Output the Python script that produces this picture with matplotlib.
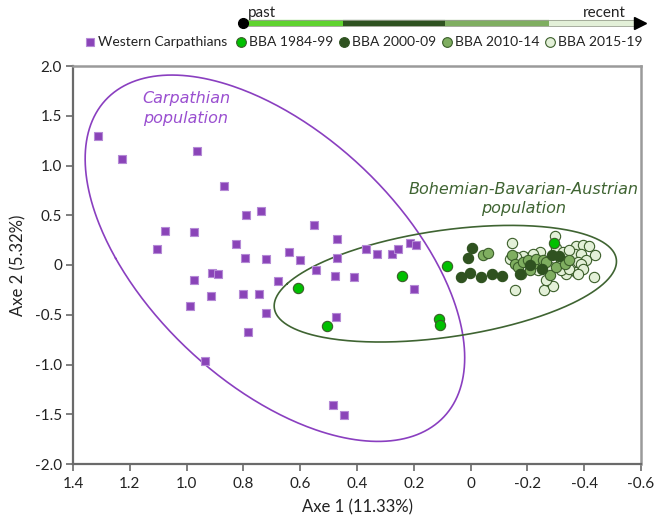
import numpy as np
import matplotlib
matplotlib.use("Agg")
import matplotlib.pyplot as plt
from matplotlib.lines import Line2D

# ---------------- data ----------------
carp_x = [1.312, 1.227, 0.963, 0.869, 0.792, 0.737, 1.077, 0.973, 1.105, 0.827,
          0.553, 0.470, 0.795, 0.719, 0.640, 0.601, 0.470, 0.369, 0.331, 0.275,
          0.254, 0.215, 0.192, 0.973, 0.910, 0.889, 0.677, 0.545, 0.479, 0.411,
          0.199, 0.914, 0.987, 0.802, 0.746, 0.719, 0.783, 0.473, 0.935, 0.484, 0.445]
carp_y = [1.293, 1.068, 1.144, 0.792, 0.505, 0.545, 0.343, 0.333, 0.156, 0.216,
          0.398, 0.260, 0.068, 0.058, 0.131, 0.047, 0.068, 0.156, 0.111, 0.111,
          0.156, 0.226, 0.196, -0.147, -0.081, -0.094, -0.158, -0.051, -0.114, -0.121,
          -0.238, -0.313, -0.410, -0.293, -0.293, -0.485, -0.677, -0.518, -0.966, -1.404, -1.508]

bba84_x = [0.608, 0.507, 0.243, 0.084, 0.111, 0.108, -0.292]
bba84_y = [-0.232, -0.612, -0.114, -0.006, -0.545, -0.602, 0.226]

bba00_x = [-0.006, 0.009, 0.035, 0.003, -0.037, -0.075, -0.110, -0.173, -0.208, -0.251, -0.286, -0.310]
bba00_y = [0.166, 0.071, -0.121, -0.077, -0.121, -0.087, -0.114, -0.087, -0.003, -0.036, 0.098, 0.088]

bba10_x = [-0.044, -0.063, -0.147, -0.155, -0.167, -0.184, -0.202, -0.219, -0.231, -0.255,
           -0.267, -0.281, -0.302, -0.331, -0.348, -0.179, -0.208]
bba10_y = [0.098, 0.125, 0.098, 0.014, -0.020, 0.030, 0.047, 0.014, 0.065, 0.055,
           0.030, -0.097, -0.020, 0.014, 0.047, -0.087, -0.054]

bba15_x = [-0.146, -0.298, -0.370, -0.395, -0.416, -0.439, -0.433, -0.158, -0.257, -0.290,
           -0.366, -0.390, -0.378, -0.407, -0.372, -0.337, -0.319, -0.267, -0.237, -0.208,
           -0.184, -0.161, -0.137, -0.302, -0.325, -0.348, -0.390, -0.348, -0.278, -0.319,
           -0.243, -0.219, -0.395, -0.378]
bba15_y = [0.226, 0.290, 0.189, 0.199, 0.189, 0.105, -0.121, -0.248, -0.248, -0.215,
           0.115, 0.115, 0.030, 0.047, -0.071, -0.087, -0.054, -0.155, -0.054, 0.081,
           0.088, 0.081, 0.065, 0.166, 0.131, 0.148, 0.014, -0.036, -0.020, 0.047,
           0.131, 0.115, -0.036, -0.087]

x_ticks = [1.4, 1.2, 1.0, 0.8, 0.6, 0.4, 0.2, 0, -0.2, -0.4, -0.6]
x_tick_labels = ["1.4", "1.2", "1.0", "0.8", "0.6", "0.4", "0.2", "0", "-0.2", "-0.4", "-0.6"]
y_ticks = [2.0, 1.5, 1.0, 0.5, 0, -0.5, -1.0, -1.5, -2.0]
y_tick_labels = ["2.0", "1.5", "1.0", "0.5", "0", "-0.5", "-1.0", "-1.5", "-2.0"]

legend_labels = ["Western Carpathians", "BBA 1984-99", "BBA 2000-09", "BBA 2010-14", "BBA 2015-19"]

# ellipse parameters (center, conjugate half-axes) in data units
carp_ell = dict(cx=0.689, cy=0.068, ux=0.561, vx=0.363, vy=1.841)
bba_ell = dict(cx=0.089, cy=-0.188, ux=0.557, vx=-0.230, vy=0.586)

# ---------------- style ----------------
PURPLE = "#8A44B8"
PURPLE_EDGE = "#B58AD6"
PURPLE_LINE = "#8A3FC0"
C84 = "#00C000"
C00 = "#2F5220"
C10 = "#7FAE60"
C15 = "#E3F0D8"
EDGE = "#3B5E2A"
GREEN_LINE = "#3F6432"

plt.rcParams['font.family'] = ['Lato', 'DejaVu Sans']

fig = plt.figure(figsize=(6.54, 5.2), dpi=100)
ax = fig.add_axes([73/654, 1 - 464/520, (641 - 73)/654, (464 - 66)/520])

t = np.linspace(0, 2*np.pi, 400)
for e, col in ((carp_ell, PURPLE_LINE), (bba_ell, GREEN_LINE)):
    ex = e['cx'] + e['ux']*np.cos(t) + e['vx']*np.sin(t)
    ey = e['cy'] + e['vy']*np.sin(t)
    ax.plot(ex, ey, color=col, lw=1.2, zorder=2)

ax.scatter(carp_x, carp_y, marker='s', s=40, facecolor=PURPLE, edgecolor=PURPLE_EDGE,
           linewidths=0.8, zorder=3)
ax.scatter(bba15_x, bba15_y, marker='o', s=55, facecolor=C15, edgecolor=EDGE, linewidths=0.8, zorder=4)
ax.scatter(bba10_x, bba10_y, marker='o', s=55, facecolor=C10, edgecolor=EDGE, linewidths=0.8, zorder=5)
ax.scatter(bba00_x, bba00_y, marker='o', s=55, facecolor=C00, edgecolor=C00, linewidths=0.8, zorder=6)
ax.scatter(bba84_x, bba84_y, marker='o', s=55, facecolor=C84, edgecolor=EDGE, linewidths=0.8, zorder=7)

ax.set_xlim(1.4, -0.6)
ax.set_ylim(-2.0, 2.0)
ax.set_xticks(x_ticks)
ax.set_xticklabels(x_tick_labels)
ax.set_yticks(y_ticks)
ax.set_yticklabels(y_tick_labels)
ax.tick_params(axis='both', direction='out', length=5, width=1.2, color='#6a6a6a',
               labelsize=11, labelcolor='#222222', pad=3)
ax.tick_params(axis='x', pad=4)
for s in ('left', 'bottom'):
    ax.spines[s].set_color('#6a6a6a')
    ax.spines[s].set_linewidth(1.6)
for s in ('top', 'right'):
    ax.spines[s].set_color('#9a9a9a')
    ax.spines[s].set_linewidth(1.8)

ax.set_xlabel("Axe 1 (11.33%)", fontsize=12, color='#222222', labelpad=6)
ax.set_ylabel("Axe 2 (5.32%)", fontsize=12, color='#222222', labelpad=6)

ax.text(1.002, 1.573, "Carpathian\npopulation", color="#9A4FD0", style='italic',
        fontsize=11.5, family='DejaVu Sans', ha='center', va='center', linespacing=1.35, zorder=8)
ax.text(-0.186, 0.666, "Bohemian-Bavarian-Austrian\npopulation", color=GREEN_LINE, style='italic',
        fontsize=11.5, family='DejaVu Sans', ha='center', va='center', linespacing=1.3, zorder=8)

# ---------------- timeline ----------------
ty = 1 - 23/520
segs = [(243, 343, "#5FD32E"), (343, 445, C00), (445, 549, C10), (549, 634, C15)]
for x0, x1, c in segs:
    fig.add_artist(Line2D([x0/654, x1/654], [ty, ty], color=c, lw=4.5, solid_capstyle='butt'))
fig.add_artist(Line2D([243/654, 634/654], [ty + 2.6/520, ty + 2.6/520], color='#9aa090', lw=0.6))
fig.add_artist(Line2D([243/654, 634/654], [ty - 2.6/520, ty - 2.6/520], color='#9aa090', lw=0.6))
fig.add_artist(Line2D([243/654], [ty], marker='o', markersize=7, color='black'))
fig.add_artist(Line2D([640/654], [ty], marker='>', markersize=8, color='black'))
fig.text(248/654, 1 - 13/520, "past", fontsize=11, ha='left', va='center', color='#222222')
fig.text(626/654, 1 - 13/520, "recent", fontsize=11, ha='right', va='center', color='#222222')

# ---------------- legend row ----------------
ly = 1 - 42/520
leg_items = [(90, 's', PURPLE, PURPLE_EDGE, 6), (241, 'o', C84, EDGE, 7),
             (344, 'o', C00, C00, 7), (447, 'o', C10, EDGE, 7), (550, 'o', C15, EDGE, 7)]
for (lx, m, fc, ec, ms), lab in zip(leg_items, legend_labels):
    fig.add_artist(Line2D([lx/654], [ly], marker=m, markersize=ms, markerfacecolor=fc,
                          markeredgecolor=ec, markeredgewidth=0.8, linestyle='none'))
    fig.text((lx + 8)/654, ly, lab, fontsize=10, ha='left', va='center', color='#222222')

fig.savefig("out.png", dpi=100)
